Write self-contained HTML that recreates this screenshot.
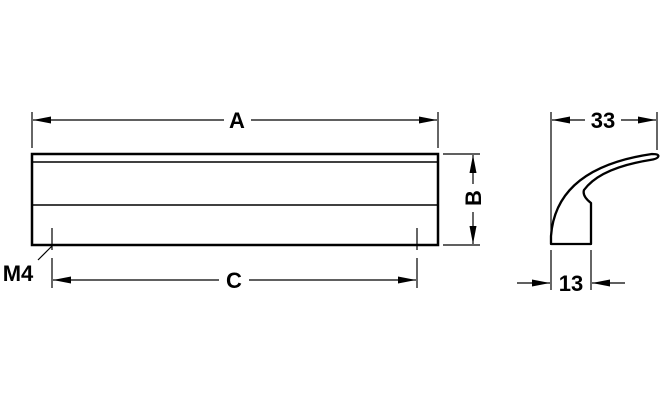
<!DOCTYPE html><html><head><style>body{margin:0;background:#fff}</style></head><body>
<svg width="660" height="400" xmlns="http://www.w3.org/2000/svg" font-family="Liberation Sans, sans-serif" font-weight="bold">
<defs><marker id="a" viewBox="0 0 18 7" refX="18" refY="3.5" markerWidth="18" markerHeight="7" markerUnits="userSpaceOnUse" orient="auto"><path d="M0,0L18,3.5L0,7z" fill="#000"/></marker></defs>
<g stroke="#000" fill="none">
<rect x="32" y="154" width="406" height="91" stroke-width="2.5"/>
<line x1="32" y1="162" x2="438" y2="162" stroke-width="1.5"/>
<line x1="32" y1="205" x2="438" y2="205" stroke-width="1.5"/>
<g stroke-width="1.2">
<line x1="32" y1="112" x2="32" y2="148"/><line x1="438" y1="112" x2="438" y2="148"/>
<line x1="224" y1="120" x2="33" y2="120" marker-end="url(#a)"/><line x1="251" y1="120" x2="437" y2="120" marker-end="url(#a)"/>
<line x1="52" y1="228" x2="52" y2="250"/><line x1="52" y1="258" x2="52" y2="288"/>
<line x1="417" y1="228" x2="417" y2="250"/><line x1="417" y1="258" x2="417" y2="288"/>
<line x1="219" y1="280" x2="53" y2="280" marker-end="url(#a)"/><line x1="249" y1="280" x2="416" y2="280" marker-end="url(#a)"/>
<line x1="38" y1="260" x2="52" y2="246"/>
<line x1="443" y1="154" x2="480" y2="154"/><line x1="443" y1="245" x2="480" y2="245"/>
<line x1="473" y1="184" x2="473" y2="155" marker-end="url(#a)"/><line x1="473" y1="212" x2="473" y2="244" marker-end="url(#a)"/>
<line x1="551" y1="112" x2="551" y2="240"/><line x1="657" y1="112" x2="657" y2="150"/>
<line x1="585" y1="120" x2="552" y2="120" marker-end="url(#a)"/><line x1="621" y1="120" x2="656" y2="120" marker-end="url(#a)"/>
<line x1="551" y1="250" x2="551" y2="290"/><line x1="591" y1="250" x2="591" y2="290"/>
<line x1="517" y1="283" x2="550" y2="283" marker-end="url(#a)"/><line x1="625" y1="283" x2="592" y2="283" marker-end="url(#a)"/>
</g>
<path d="M591,244 L551,244 L551,236 Q556,168 652,154 Q660,154 658,157 Q657,159 650,160 Q600,168 584,190 Q582,196 591,203 Z" stroke-width="2.3" stroke-linejoin="round"/>
</g>
<g font-size="22" text-anchor="middle">
<text x="237" y="128">A</text>
<text x="234" y="288">C</text>
<text x="18" y="281">M4</text>
<text x="603" y="128">33</text>
<text x="571" y="291">13</text>
<text transform="translate(481,198) rotate(-90)">B</text>
</g>
</svg></body></html>
